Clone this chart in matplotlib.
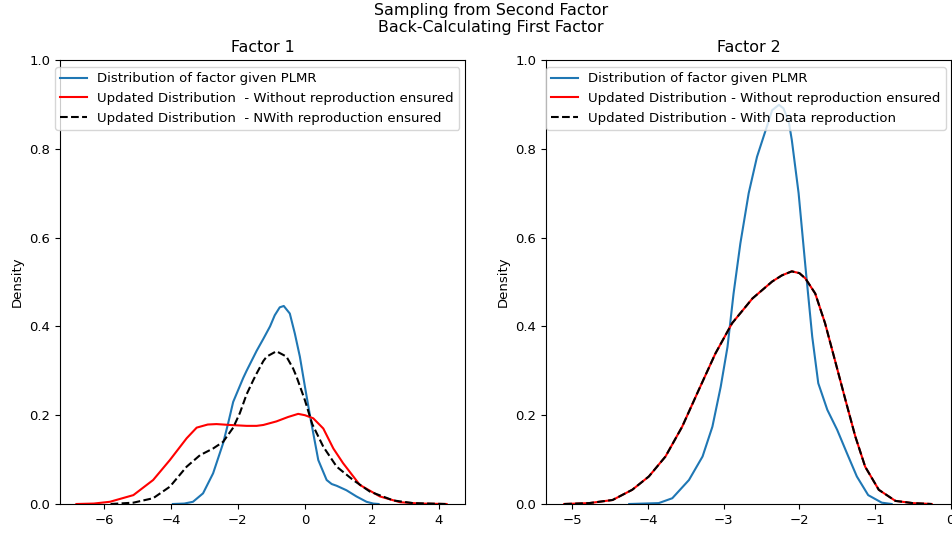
#!/usr/bin/env python3
# -*- coding: utf-8 -*-

import matplotlib
matplotlib.use("Agg")
import matplotlib.pyplot as plt

# ---- values (x, density) ----
# Factor 1
f1_plmr_x = [-3.94, -3.60, -3.34, -3.04, -2.74, -2.44, -2.29, -2.14, -1.84, -1.74,
             -1.44, -1.24, -1.04, -0.90, -0.75, -0.63, -0.45, -0.30, -0.15, 0.00,
             0.15, 0.40, 0.65, 0.80, 0.95, 1.24, 1.54, 1.84, 2.04, 2.20]
f1_plmr_y = [0.000, 0.001, 0.005, 0.024, 0.069, 0.137, 0.182, 0.230, 0.284, 0.300,
             0.345, 0.372, 0.400, 0.425, 0.443, 0.446, 0.429, 0.384, 0.332, 0.265,
             0.200, 0.099, 0.054, 0.045, 0.041, 0.031, 0.017, 0.005, 0.001, 0.000]

f1_without_x = [-6.82, -6.30, -5.82, -5.12, -4.53, -4.03, -3.53, -3.23, -2.90, -2.64,
                -2.24, -1.74, -1.44, -1.24, -0.85, -0.50, -0.20, 0.00, 0.25, 0.55,
                0.85, 1.14, 1.64, 2.24, 2.84, 3.43, 4.23]
f1_without_y = [0.000, 0.001, 0.005, 0.020, 0.054, 0.099, 0.148, 0.172, 0.179, 0.180,
                0.178, 0.176, 0.176, 0.178, 0.186, 0.196, 0.203, 0.200, 0.193, 0.170,
                0.125, 0.092, 0.043, 0.017, 0.004, 0.001, 0.000]

f1_with_x = [-5.80, -5.12, -4.53, -4.03, -3.53, -3.13, -2.74, -2.44, -2.14, -1.94,
             -1.74, -1.54, -1.44, -1.24, -1.14, -0.85, -0.55, -0.35, -0.25, 0.00,
             0.22, 0.55, 0.95, 1.44, 1.94, 2.64, 3.23, 4.20]
f1_with_y = [0.000, 0.003, 0.013, 0.039, 0.084, 0.110, 0.125, 0.140, 0.172, 0.205,
             0.247, 0.279, 0.294, 0.322, 0.332, 0.344, 0.332, 0.305, 0.287, 0.234,
             0.180, 0.129, 0.084, 0.054, 0.028, 0.008, 0.002, 0.000]

# Factor 2
f2_plmr_x = [-4.25, -3.86, -3.68, -3.46, -3.28, -3.15, -3.04, -2.95, -2.87, -2.78,
             -2.67, -2.56, -2.43, -2.36, -2.27, -2.21, -2.14, -2.10, -2.01, -1.92,
             -1.83, -1.75, -1.63, -1.50, -1.37, -1.24, -1.09, -0.91, -0.78]
f2_plmr_y = [0.000, 0.002, 0.013, 0.054, 0.107, 0.174, 0.264, 0.354, 0.474, 0.587,
             0.700, 0.782, 0.850, 0.887, 0.899, 0.891, 0.861, 0.820, 0.700, 0.535,
             0.377, 0.272, 0.212, 0.167, 0.114, 0.062, 0.020, 0.003, 0.000]

f2_updated_x = [-5.11, -4.78, -4.47, -4.21, -3.99, -3.77, -3.55, -3.33, -3.11, -2.89,
                -2.62, -2.36, -2.23, -2.10, -2.00, -1.92, -1.79, -1.66, -1.53, -1.39,
                -1.26, -1.13, -0.95, -0.73, -0.50, -0.25]
f2_updated_y = [0.000, 0.002, 0.009, 0.032, 0.062, 0.107, 0.174, 0.257, 0.339, 0.407,
                0.463, 0.501, 0.515, 0.524, 0.520, 0.508, 0.474, 0.407, 0.324, 0.234,
                0.152, 0.084, 0.032, 0.007, 0.002, 0.000]

plt.rcParams["font.size"] = 9.55

W, H = 953, 533
fig = plt.figure(figsize=(W / 100, H / 100), dpi=100)

ax1 = fig.add_axes([60 / W, 29 / H, 405 / W, 444 / H])
ax2 = fig.add_axes([546 / W, 29 / H, 405 / W, 444 / H])

ax1.plot(f1_plmr_x, f1_plmr_y, color="#1f77b4", label="Distribution of factor given PLMR")
ax1.plot(f1_without_x, f1_without_y, color="red",
         label="Updated Distribution  - Without reproduction ensured")
ax1.plot(f1_with_x, f1_with_y, color="black", linestyle="--",
         label="Updated Distribution  - NWith reproduction ensured")
ax1.set_xlim(-7.31, 4.78)
ax1.set_title("Factor 1")

ax2.plot(f2_plmr_x, f2_plmr_y, color="#1f77b4", label="Distribution of factor given PLMR")
ax2.plot(f2_updated_x, f2_updated_y, color="red",
         label="Updated Distribution - Without reproduction ensured")
ax2.plot(f2_updated_x, f2_updated_y, color="black", linestyle="--",
         label="Updated Distribution - With Data reproduction")
ax2.set_xlim(-5.35, 0.005)
ax2.set_title("Factor 2")

top = (504 - 67) / 444
ax1.legend(loc="upper left", bbox_to_anchor=(-5 / 405, top), borderaxespad=0)
ax2.legend(loc="upper left", bbox_to_anchor=(0, top), borderaxespad=0)

for ax in (ax1, ax2):
    ax.set_ylim(0, 1.0)
    ax.set_ylabel("Density")

fig.suptitle("Sampling from Second Factor\nBack-Calculating First Factor", x=0.515, y=0.995)

fig.savefig("out.png", dpi=100)
plt.close(fig)
